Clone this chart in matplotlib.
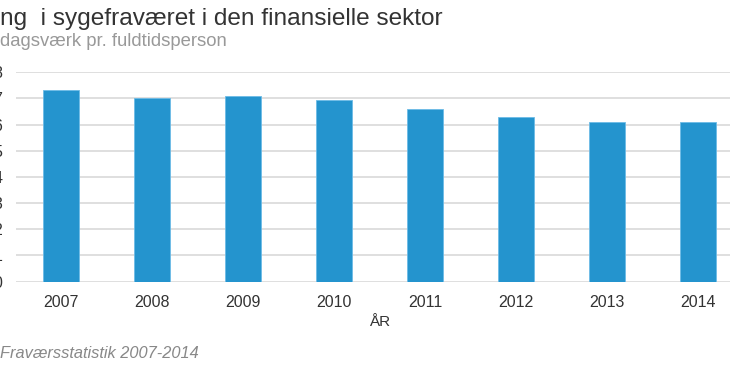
import numpy as np
import matplotlib.pyplot as plt

plt.rcParams['font.family'] = ['Liberation Sans', 'DejaVu Sans']

years = ['2007', '2008', '2009', '2010', '2011', '2012', '2013', '2014']
dagsvaerk = [7.34, 7.02, 7.08, 6.95, 6.58, 6.30, 6.09, 6.09]
yticks = [0, 1, 2, 3, 4, 5, 6, 7, 8]

title = 'ng  i sygefraværet i den finansielle sektor'
subtitle = 'dagsværk pr. fuldtidsperson'
source = 'Fraværsstatistik 2007-2014'

W, H = 730, 365
fig = plt.figure(figsize=(W / 100, H / 100), dpi=100)
fig.patch.set_facecolor('white')

# plot area runs past the right edge (reference is cropped)
ax = fig.add_axes([15.5 / W, (H - 281.5) / H, 728 / W, 209.2 / H])

x = np.arange(len(years))
ax.bar(x, dagsvaerk, width=0.4, color='#2494ce', edgecolor='#6cbbe6',
       linewidth=0.6, zorder=3)

ax.set_xlim(-0.5, len(years) - 0.5)
ax.set_ylim(0, 8)
ax.set_yticks(yticks)
ax.set_xticks(x)
ax.set_xticklabels(years)

ax.grid(axis='y', color='#d9d9d9', linewidth=1.2, zorder=0)
for s in ax.spines.values():
    s.set_visible(False)
ax.tick_params(axis='both', length=0, labelsize=11.5, colors='#333333')
ax.tick_params(axis='y', pad=9.5)
ax.tick_params(axis='x', pad=9.5)
ax.set_xlabel('ÅR', fontsize=11, color='#333333', labelpad=3.5)

fig.text(0, (H - 25) / H, title, fontsize=17.6, color='#333333', va='baseline')
fig.text(0, (H - 45.5) / H, subtitle, fontsize=13.3, color='#999999', va='baseline')
fig.text(0, (H - 358) / H, source, fontsize=11.8, color='#888888',
         style='italic', va='baseline')

fig.savefig('out.png', dpi=100)
